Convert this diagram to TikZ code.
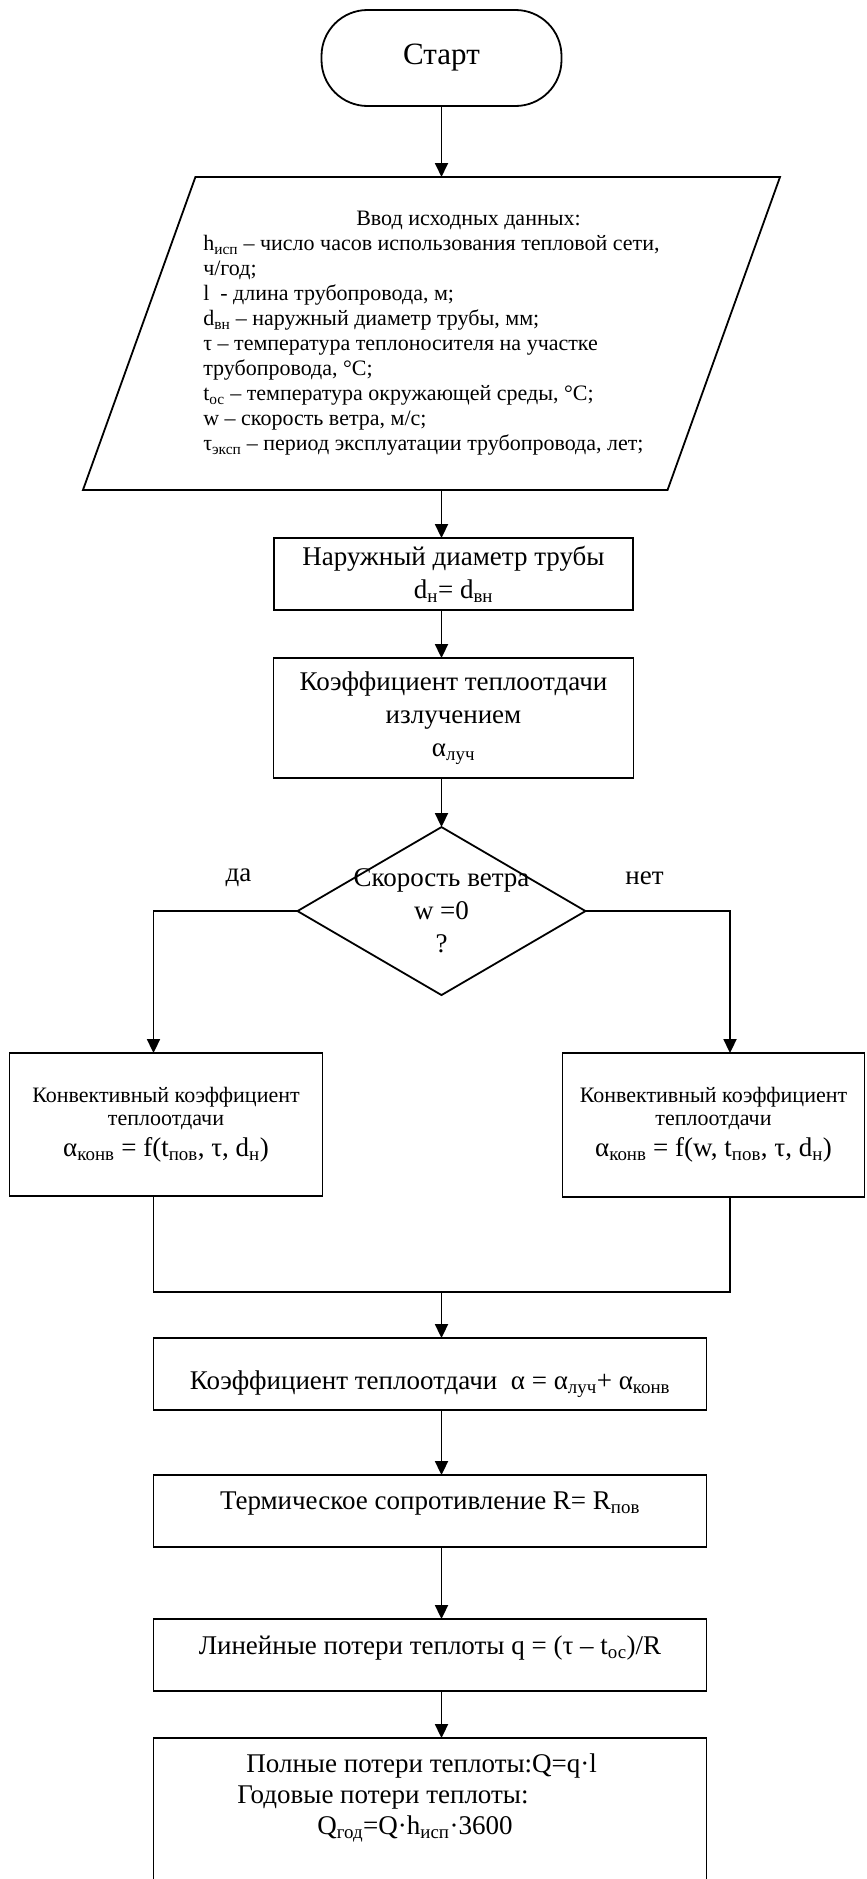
\documentclass[tikz,border=0pt]{standalone}
\usepackage{fontspec}
\setmainfont{Liberation Serif}
\usepackage{tikz}
\usetikzlibrary{arrows.meta,positioning,shapes.geometric}

\begin{document}
\begin{tikzpicture}[
  x=1pt, y=-1pt, line width=1.8pt,
  term/.style={rectangle, rounded corners=46pt, draw, outer sep=0pt, minimum width=240pt,
               minimum height=96pt, font=\fontsize{31}{36}\selectfont},
  io/.style={trapezium, trapezium left angle=66, trapezium right angle=114,
             trapezium stretches=true, draw, outer sep=0pt, minimum width=699pt, minimum height=313pt,
             inner sep=0pt, align=left, font=\fontsize{22}{25}\selectfont},
  blk/.style={rectangle, draw, align=center, inner sep=0pt, outer sep=0pt,
              font=\fontsize{27}{33}\selectfont},
  dec/.style={diamond, draw, outer sep=0pt, minimum width=288pt, minimum height=168pt, inner sep=0pt},
  txt/.style={align=center, inner sep=0pt, font=\fontsize{27}{33}\selectfont},
  flow/.style={-{Triangle[length=14pt,width=13pt]}},
  rel/.style={-{}}
]
  \useasboundingbox (0,0) rectangle (867,1879);

  \node[term] (Start) at (441.5,58) {Старт};
  \node[io, below=71pt of Start, xshift=-10pt] (Input) {\hspace*{153pt}Ввод исходных данных:\\
    h\textsubscript{исп} – число часов использования тепловой сети,\\
    ч/год;\\
    l~ - длина трубопровода, м;\\
    d\textsubscript{вн} – наружный диаметр трубы, мм;\\
    τ – температура теплоносителя на участке\\
    трубопровода, °C;\\
    t\textsubscript{ос} – температура окружающей среды, °C;\\
    w – скорость ветра, м/с;\\
    τ\textsubscript{эксп} – период эксплуатации трубопровода, лет;};
  \node[blk, minimum width=359pt, minimum height=72pt, below=48pt of Input, xshift=22pt] (Diam)
    {Наружный диаметр трубы\\d\textsubscript{н}= d\textsubscript{вн}};
  \node[blk, minimum width=360pt, minimum height=120pt, below=48pt of Diam] (Rad)
    {Коэффициент теплоотдачи\\излучением\\α\textsubscript{луч}};
  \node[dec, below=49pt of Rad, xshift=-12pt,
        label={[txt]center:Скорость ветра\\w =0\\?}] (Wind) {};
  \node[txt, xshift=-59pt, yshift=33pt] (Yes) at (Wind.west) {да};
  \node[txt, xshift=59pt, yshift=33pt] (No) at (Wind.east) {нет};

  \node[blk, minimum width=313pt, minimum height=143pt, below left=58pt and 119pt of Wind.south,
        font=\fontsize{22}{23}\selectfont] (ConvL)
    {Конвективный коэффициент\\теплоотдачи\\[7pt]{\fontsize{27}{31}\selectfont α\textsubscript{конв} = f(t\textsubscript{пов}, τ, d\textsubscript{н})}};
  \node[blk, minimum width=302pt, minimum height=144pt, below right=58pt and 121pt of Wind.south,
        font=\fontsize{22}{23}\selectfont] (ConvR)
    {Конвективный коэффициент\\теплоотдачи\\[7pt]{\fontsize{27}{31}\selectfont α\textsubscript{конв} = f(w, t\textsubscript{пов}, τ, d\textsubscript{н})}};
  \path (Wind.south |- ConvL.south) ++(0,96) coordinate (Join);

  \node[blk, minimum width=553pt, minimum height=72pt, text height=37pt, text depth=6pt,
        below=46pt of Join, xshift=-11.5pt] (Alpha)
    {Коэффициент теплоотдачи~ α = α\textsubscript{луч}+ α\textsubscript{конв}};
  \node[blk, minimum width=553pt, minimum height=72pt, text height=19pt, text depth=22pt,
        below=65pt of Alpha] (Resist)
    {Термическое сопротивление R= R\textsubscript{пов}};
  \node[blk, minimum width=553pt, minimum height=72pt, text height=19pt, text depth=20pt,
        below=72pt of Resist] (Lin)
    {Линейные потери теплоты q = (τ – t\textsubscript{ос})/R};
  \node[blk, minimum width=553pt, minimum height=170pt, below=47pt of Lin] (Total) {};
  \node[txt, align=left, anchor=west, font=\fontsize{27}{31}\selectfont] (TotalTxt)
    at ([xshift=83pt, yshift=-60pt]Total.north west)
    {\hspace*{9pt}Полные потери теплоты:Q=q·l\\Годовые потери теплоты:\\\hspace*{80pt}Q\textsubscript{год}=Q·h\textsubscript{исп}·3600};

  \draw[flow] (Start) -- (Start |- Input.north);
  \draw[flow] (Start |- Input.south) -- (Start |- Diam.north);
  \draw[flow] (Start |- Diam.south) -- (Start |- Rad.north);
  \draw[flow] (Start |- Rad.south) -- (Wind.north);
  \draw[flow] (Wind.west) -| ([xshift=-12.5pt]ConvL.north);
  \draw[flow] (Wind.east) -| ([xshift=16.5pt]ConvR.north);
  \draw[rel] ([xshift=-12.5pt]ConvL.south) |- (Join) -| ([xshift=16.5pt]ConvR.south);
  \draw[flow] (Join) -- (Join |- Alpha.north);
  \draw[flow] (Join |- Alpha.south) -- (Join |- Resist.north);
  \draw[flow] (Join |- Resist.south) -- (Join |- Lin.north);
  \draw[flow] (Join |- Lin.south) -- (Join |- Total.north);
\end{tikzpicture}
\end{document}
